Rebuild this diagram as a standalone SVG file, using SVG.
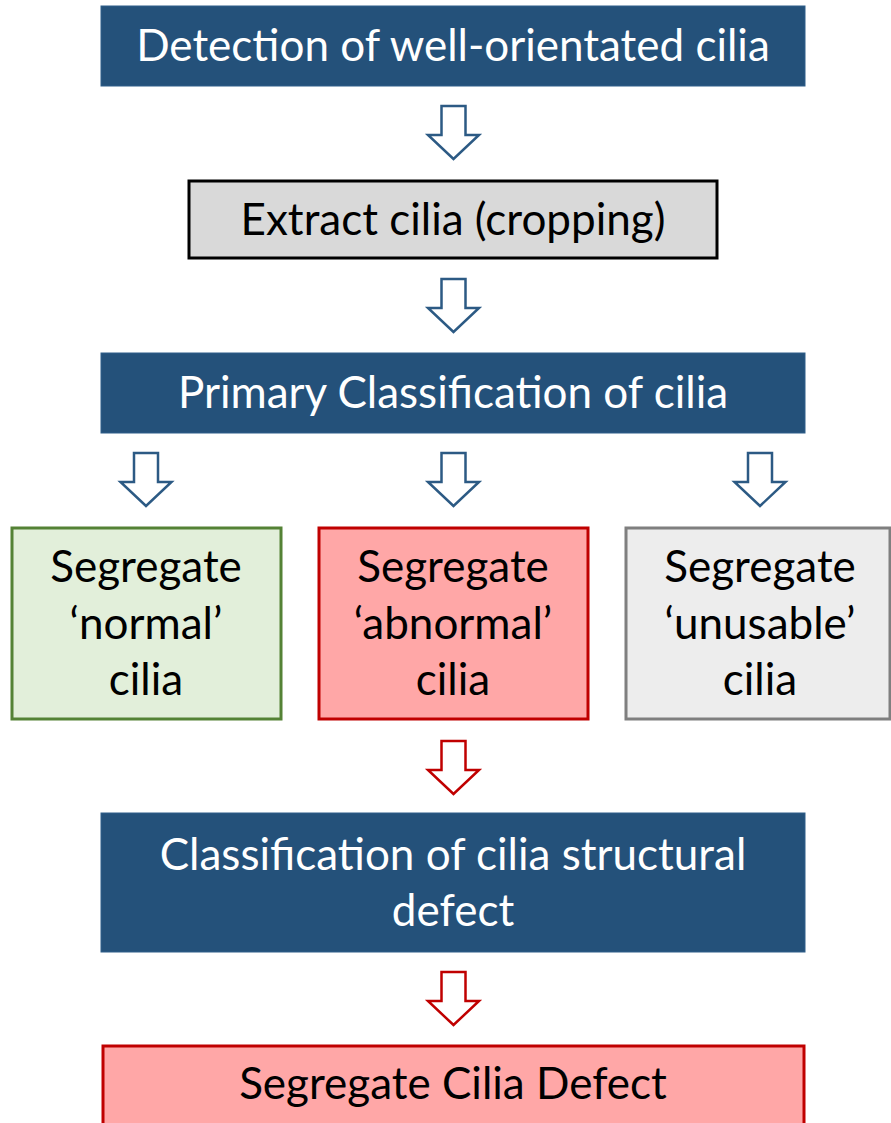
<svg xmlns="http://www.w3.org/2000/svg" width="891" height="1123" viewBox="0 0 891 1123">
  <style>
    text { font-family: Lato, "Open Sans", "Liberation Sans", sans-serif; font-size: 44px; text-anchor: middle; }
    .blue rect { fill: #24517A; stroke: #2E5F8A; stroke-width: 1; }
    .blue text { fill: #ffffff; }
    .dark text { fill: #000000; }
    .arrow-blue { fill: #ffffff; stroke: #2C5A84; stroke-width: 2.5; stroke-linejoin: miter; }
    .arrow-red { fill: #ffffff; stroke: #C00000; stroke-width: 2.5; stroke-linejoin: miter; }
  </style>
  <defs>
    <!-- hollow block arrow, origin at the centre of the shaft top -->
    <path id="blockArrow" d="M -12 0 H 12 V 29 H 25.5 L 0 53 L -25.5 29 H -12 Z"/>
  </defs>

  <g id="detect" class="blue">
    <rect x="101" y="6" width="704" height="80"/>
    <text x="453" y="61">Detection of well-orientated cilia</text>
  </g>

  <g id="extract" class="dark">
    <rect x="189" y="181" width="528" height="77" fill="#D9D9D9" stroke="#000000" stroke-width="3"/>
    <text x="453" y="235">Extract cilia (cropping)</text>
  </g>

  <g id="primary" class="blue">
    <rect x="101" y="353" width="704" height="80"/>
    <text x="453" y="408">Primary Classification of cilia</text>
  </g>

  <g id="normal" class="dark">
    <rect x="12" y="528" width="269" height="191" fill="#E2EFDA" stroke="#548235" stroke-width="3"/>
    <text x="146" y="582">Segregate</text>
    <text x="146" y="639">‘normal’</text>
    <text x="146" y="695">cilia</text>
  </g>

  <g id="abnormal" class="dark">
    <rect x="319" y="528" width="269" height="191" fill="#FFA7A7" stroke="#C00000" stroke-width="3"/>
    <text x="453" y="582">Segregate</text>
    <text x="453" y="639">‘abnormal’</text>
    <text x="453" y="695">cilia</text>
  </g>

  <g id="unusable" class="dark">
    <rect x="626" y="528" width="264" height="191" fill="#EDEDED" stroke="#7F7F7F" stroke-width="3"/>
    <text x="760" y="582">Segregate</text>
    <text x="760" y="639">‘unusable’</text>
    <text x="760" y="695">cilia</text>
  </g>

  <g id="structural" class="blue">
    <rect x="101" y="813" width="704" height="139"/>
    <text x="453" y="870">Classification of cilia structural</text>
    <text x="453" y="926">defect</text>
  </g>

  <g id="defect" class="dark">
    <rect x="103" y="1046" width="701" height="90" fill="#FFA7A7" stroke="#C00000" stroke-width="3"/>
    <text x="453" y="1099">Segregate Cilia Defect</text>
  </g>

  <g id="connectors">
    <use href="#blockArrow" class="arrow-blue" x="453.5" y="106"/>
    <use href="#blockArrow" class="arrow-blue" x="453.5" y="279"/>
    <use href="#blockArrow" class="arrow-blue" x="146" y="453"/>
    <use href="#blockArrow" class="arrow-blue" x="453.5" y="453"/>
    <use href="#blockArrow" class="arrow-blue" x="760" y="453"/>
    <use href="#blockArrow" class="arrow-red" x="453.5" y="741"/>
    <use href="#blockArrow" class="arrow-red" x="453.5" y="972"/>
  </g>
</svg>
